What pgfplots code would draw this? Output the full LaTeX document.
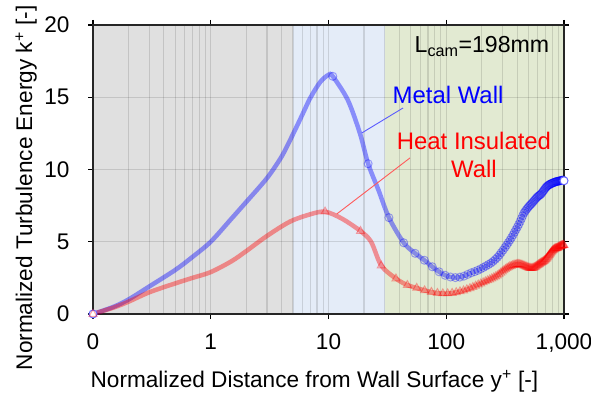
\documentclass[border=0pt]{standalone}
\usepackage{fontspec}
\setmainfont{Liberation Sans}
\usepackage{pgfplots}
\pgfplotsset{compat=1.18}
\definecolor{bggray}{RGB}{224,224,224}
\definecolor{bgblue}{RGB}{228,236,248}
\definecolor{bggreen}{RGB}{226,234,210}
\definecolor{leadblue}{RGB}{90,90,255}
\definecolor{leadred}{RGB}{255,90,90}
\newcommand{\bigf}{\fontsize{22.7}{27}\selectfont}
\newcommand{\annf}{\fontsize{24}{28}\selectfont}
\begin{document}
\begin{tikzpicture}
\begin{axis}[
  name=ax,
  set layers,
  scale only axis,
  width=471bp, height=289bp,
  at={(0,0)}, anchor=south west,
  xmode=log, log basis x=10,
  xmin=0.1, xmax=1000, ymin=0, ymax=20,
  xtick={0.1,1,10,100,1000},
  xticklabels={0,1,10,100,{1,000}},
  minor xtick={0.2,0.3,0.4,0.5,0.6,0.7,0.8,0.9,2,3,4,5,6,7,8,9,20,30,40,50,60,70,80,90,200,300,400,500,600,700,800,900},
  ytick={0,5,10,15,20},
  yticklabels={0,5,10,15,20},
  tick align=outside,
  major tick length=5bp,
  minor tick length=0pt,
  tick style={black, line width=1.1bp},
  xmajorgrids, xminorgrids, ymajorgrids,
  major grid style={black, opacity=0.12, line width=1.2bp},
  minor grid style={black, opacity=0.12, line width=1.2bp},
  axis line style={black!85, line width=1.3bp},
  ticklabel style={font=\bigf},
  xticklabel style={yshift=-11bp},
  yticklabel style={xshift=-15bp},
  label style={font=\bigf},
  xlabel={Normalized Distance from Wall Surface y\textsuperscript{+} [-]},
  ylabel={Normalized Turbulence Energy k\textsuperscript{+} [-]},
  xlabel style={at={(axis description cs:0.470,-0.232)}, anchor=center},
  ylabel style={at={(axis description cs:-0.142,0.436)}, anchor=center, rotate=0},
  clip=false,
]
% background bands
\addplot[fill=bggray, draw=none, on layer=axis background] coordinates {(0.1,0) (5,0) (5,20) (0.1,20)} -- cycle;
\addplot[fill=bgblue, draw=none, on layer=axis background] coordinates {(5,0) (30,0) (30,20) (5,20)} -- cycle;
\addplot[fill=bggreen, draw=none, on layer=axis background] coordinates {(30,0) (1000,0) (1000,20) (30,20)} -- cycle;

% Metal wall line
\addplot[blue, draw opacity=0.4, line width=4.5bp, smooth, tension=0.5, no marks] coordinates {
(0.1,0) (0.15,0.5) (0.2,1.0) (0.3,1.9) (0.5,3.05) (0.7,3.95) (1,5.0) (1.5,6.6) (2,7.75) (3,9.4) (4,10.9) (5,12.45) (6,13.8) (7,14.95) (8.5,16.05) (10,16.55) (10.87,16.45) (14.6,14.8) (18.5,12.5) (21.7,10.4) (26.5,8.6) (32.6,6.67) (43.5,4.93) (54.4,4.2) (65.2,3.72) (76.1,3.27) (87.0,2.92) (97.8,2.68) (108.7,2.56) (119.6,2.52) (130.4,2.55) (141.3,2.62) (152.2,2.74) (163,2.85) (185,3.02) (206.5,3.22) (228,3.42) (250,3.64) (272,3.92) (293,4.25) (315,4.6) (337,4.95) (359,5.3) (380,5.66) (402,6.02) (424,6.4) (446,6.8) (467,7.1) (489,7.32) (511,7.5) (533,7.66) (554,7.82) (576,7.98) (598,8.12) (620,8.22) (641,8.32) (663,8.48) (685,8.64) (707,8.78) (728,8.88) (750,8.95) (772,9.01) (794,9.05) (815,9.09) (837,9.13) (859,9.16) (880,9.18) (902,9.2) (924,9.22) (946,9.24) (967,9.26) (989,9.25) (1000,9.22)
};
% Metal wall markers
\addplot[only marks, mark=o, mark size=4bp, blue, draw opacity=0.35, mark options={line width=1bp}] coordinates {
(10.87,16.45) (21.7,10.4) (32.6,6.67) (43.5,4.93) (54.4,4.2) (65.2,3.72) (76.1,3.27) (87.0,2.92) (97.8,2.68) (108.7,2.56)
(119.6,2.52) (130.4,2.55) (141.3,2.62) (152.2,2.74) (163,2.85) (174,2.93) (185,3.02) (196,3.12) (206.5,3.22) (217,3.32)
(228,3.42) (239,3.52) (250,3.64) (261,3.78) (272,3.92) (283,4.08) (293,4.25) (304,4.42) (315,4.6) (326,4.77)
(337,4.95) (348,5.12) (359,5.3) (370,5.48) (380,5.66) (391,5.84) (402,6.02) (413,6.2) (424,6.4) (435,6.6)
(446,6.8) (456.5,6.98) (467,7.1) (478,7.22) (489,7.32) (500,7.42) (511,7.5) (522,7.58) (533,7.66) (543.5,7.74)
(554,7.82) (565,7.9) (576,7.98) (587,8.06) (598,8.12) (609,8.18) (620,8.22) (630,8.26) (641,8.32) (652,8.4)
(663,8.48) (674,8.56) (685,8.64) (696,8.72) (707,8.78) (717,8.84) (728,8.88) (739,8.92) (750,8.95) (761,8.98)
(772,9.01) (783,9.03) (794,9.05) (804,9.07) (815,9.09) (826,9.11) (837,9.13) (848,9.15) (859,9.16) (870,9.17)
(880,9.18) (891,9.19) (902,9.2) (913,9.21) (924,9.22) (935,9.23) (946,9.24) (956,9.25) (967,9.26) (978,9.27)
(989,9.25)
};
\addplot[only marks, mark=*, mark size=4bp, draw=blue!60, fill=white, mark options={line width=1bp}] coordinates {(0.1,0) (1000,9.22)};

% Heat insulated line
\addplot[red, draw opacity=0.4, line width=4.5bp, smooth, tension=0.5, no marks] coordinates {
(0.1,0) (0.15,0.45) (0.2,0.85) (0.3,1.5) (0.5,2.12) (0.7,2.5) (1,2.9) (1.5,3.65) (2,4.35) (3,5.4) (4.7,6.39) (7,6.9) (9.35,7.08) (13,6.6) (18.7,5.74) (23,5.0) (28.05,3.35) (37.4,2.45) (46.75,2.0) (56.1,1.8) (65.45,1.63) (74.8,1.52) (84.15,1.45) (93.5,1.42) (102.85,1.42) (112.2,1.45) (121.55,1.5) (140.25,1.62) (158.95,1.78) (177.65,1.95) (196.35,2.1) (215.05,2.25) (233.75,2.38) (252.45,2.52) (271.15,2.66) (289.85,2.85) (308.55,3.02) (327.25,3.17) (345.95,3.28) (364.65,3.36) (383.35,3.42) (402.05,3.45) (420.75,3.44) (439.45,3.4) (458.15,3.34) (476.85,3.28) (495.55,3.22) (514.25,3.18) (532.95,3.17) (551.65,3.2) (570.35,3.26) (589.05,3.34) (607.75,3.42) (626.45,3.5) (645.15,3.56) (663.85,3.62) (682.55,3.7) (701.25,3.79) (719.95,3.9) (738.65,4.02) (757.35,4.14) (776.05,4.26) (794.75,4.36) (813.45,4.44) (832.15,4.5) (850.85,4.54) (869.55,4.56) (888.25,4.6) (906.95,4.64) (925.65,4.68) (944.35,4.72) (963.05,4.74) (981.75,4.76) (1000,4.77)
};
% Heat insulated markers
\addplot[only marks, mark=triangle, mark size=4.5bp, red, draw opacity=0.35, mark options={line width=1bp}] coordinates {
(0.1,0) (9.35,7.08) (18.7,5.74) (28.05,3.35) (37.4,2.45) (46.75,2.0) (56.1,1.8) (65.45,1.63) (74.8,1.52) (84.15,1.45) (93.5,1.42)
(102.85,1.42) (112.2,1.45) (121.55,1.5) (130.9,1.56) (140.25,1.62) (149.6,1.7) (158.95,1.78) (168.3,1.86) (177.65,1.95) (187,2.03)
(196.35,2.1) (205.7,2.18) (215.05,2.25) (224.4,2.32) (233.75,2.38) (243.1,2.45) (252.45,2.52) (261.8,2.59) (271.15,2.66) (280.5,2.75)
(289.85,2.85) (299.2,2.94) (308.55,3.02) (317.9,3.1) (327.25,3.17) (336.6,3.23) (345.95,3.28) (355.3,3.32) (364.65,3.36) (374,3.39)
(383.35,3.42) (392.7,3.44) (402.05,3.45) (411.4,3.45) (420.75,3.44) (430.1,3.42) (439.45,3.4) (448.8,3.37) (458.15,3.34) (467.5,3.31)
(476.85,3.28) (486.2,3.25) (495.55,3.22) (504.9,3.2) (514.25,3.18) (523.6,3.17) (532.95,3.17) (542.3,3.18) (551.65,3.2) (561,3.23)
(570.35,3.26) (579.7,3.3) (589.05,3.34) (598.4,3.38) (607.75,3.42) (617.1,3.46) (626.45,3.5) (635.8,3.53) (645.15,3.56) (654.5,3.59)
(663.85,3.62) (673.2,3.66) (682.55,3.7) (691.9,3.74) (701.25,3.79) (710.6,3.84) (719.95,3.9) (729.3,3.96) (738.65,4.02) (748,4.08)
(757.35,4.14) (766.7,4.2) (776.05,4.26) (785.4,4.31) (794.75,4.36) (804.1,4.4) (813.45,4.44) (822.8,4.47) (832.15,4.5) (841.5,4.52)
(850.85,4.54) (860.2,4.55) (869.55,4.56) (878.9,4.58) (888.25,4.6) (897.6,4.62) (906.95,4.64) (916.3,4.66) (925.65,4.68) (935,4.7)
(944.35,4.72) (953.7,4.73) (963.05,4.74) (972.4,4.75) (981.75,4.76) (991.1,4.77) (1000,4.77)
};

% leader lines
\addplot[leadblue, line width=0.9bp, no marks] coordinates {(43,14.26) (19.2,12.53)};
\addplot[leadred, line width=0.9bp, no marks] coordinates {(49.2,10.8) (11.75,6.92)};

% annotations
\node[font=\annf, text=blue, anchor=center] at (axis cs:103.6,15.16) {Metal Wall};
\node[font=\annf, text=red, anchor=center, align=center] at (axis cs:172,11.0) {Heat Insulated\\Wall};
\node[font=\fontsize{23.2}{28}\selectfont, anchor=center] at (axis cs:201,18.5) {L\textsubscript{cam}=198mm};
\end{axis}
\pgfresetboundingbox
\useasboundingbox (-93bp,-80bp) rectangle (498bp,314bp);
\end{tikzpicture}
\end{document}
